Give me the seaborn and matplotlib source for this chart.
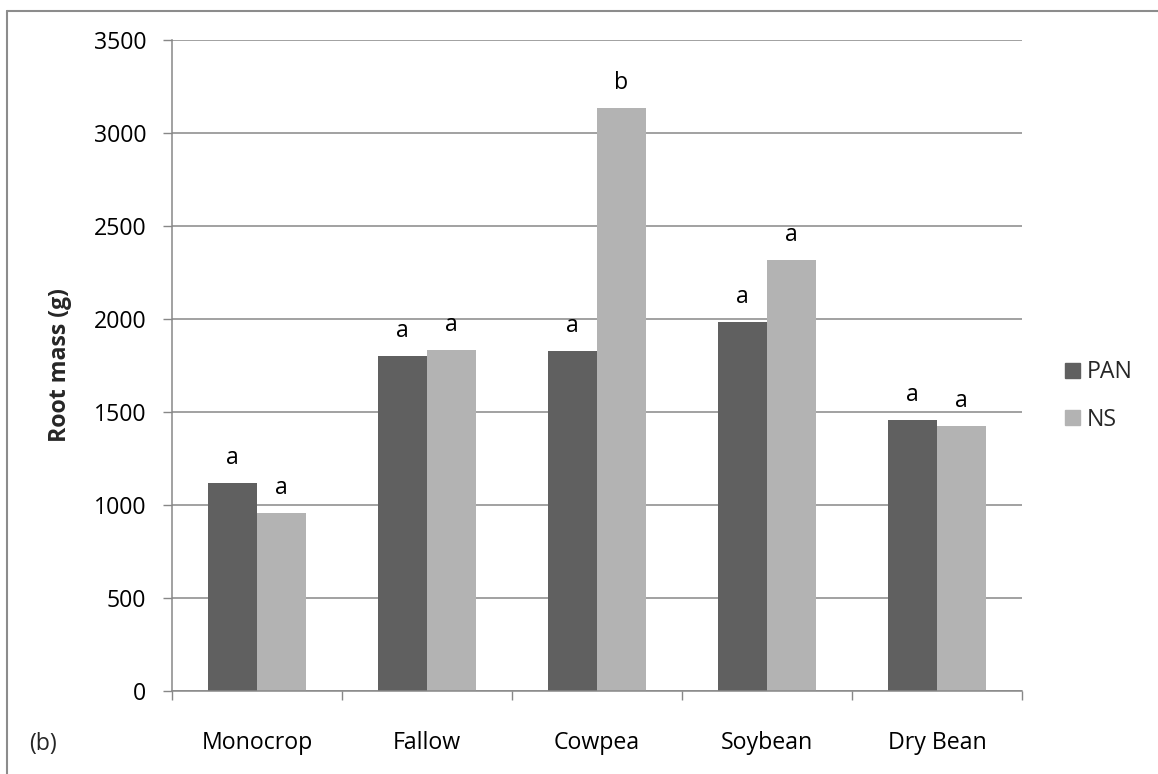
import matplotlib
matplotlib.use("Agg")
import matplotlib.pyplot as plt
import matplotlib.patches as mpatches
from matplotlib.lines import Line2D
import pandas as pd
import seaborn as sns

# Root mass per cropping system, two treatments
categories = ["Monocrop", "Fallow", "Cowpea", "Soybean", "Dry Bean"]
series = ["PAN", "NS"]
pan_mass = [1120, 1800, 1828, 1984, 1459]
ns_mass = [955, 1832, 3133, 2319, 1426]
pan_letters = ["a", "a", "a", "a", "a"]
ns_letters = ["a", "a", "b", "a", "a"]
y_ticks = [0, 500, 1000, 1500, 2000, 2500, 3000, 3500]

PAN_COLOR = "#606060"
NS_COLOR = "#b3b3b3"
GRID = "#878787"
FS = 16.7

sns.set_style("white")
plt.rcParams["font.family"] = ["Open Sans", "DejaVu Sans"]

df = pd.DataFrame({
    "Crop": categories * 2,
    "Treatment": ["PAN"] * len(categories) + ["NS"] * len(categories),
    "Root mass": pan_mass + ns_mass,
})

W, H = 1158, 774
fig = plt.figure(figsize=(W / 100, H / 100), dpi=100)
ax = fig.add_axes([172 / W, 1 - 691 / H, 850 / W, 651 / H])

sns.barplot(
    data=df, x="Crop", y="Root mass", hue="Treatment",
    order=categories, hue_order=series,
    palette={"PAN": PAN_COLOR, "NS": NS_COLOR},
    width=4 / 7, gap=0, saturation=1, linewidth=0,
    errorbar=None, legend=False, ax=ax,
)

# significance letters above each bar
for container, letters in zip(ax.containers, [pan_letters, ns_letters]):
    for bar, letter in zip(container, letters):
        ax.annotate(
            letter,
            xy=(bar.get_x() + bar.get_width() / 2, bar.get_height()),
            xytext=(0, 13.7), textcoords="offset points",
            ha="center", va="baseline", fontsize=FS, color="black",
        )

ax.set_ylim(0, 3500)
ax.set_yticks(y_ticks)
ax.set_xlim(-0.5, len(categories) - 0.5)
ax.set_xticks([i - 0.5 for i in range(len(categories) + 1)], minor=True)

ax.set_xlabel("")
ax.set_ylabel("Root mass (g)", fontsize=FS, fontweight="bold")
ax.yaxis.set_label_coords((72 - 172) / 850, 0.5)

ax.tick_params(axis="y", which="major", length=6.5, width=1, color=GRID,
               direction="out", pad=12, labelsize=FS, labelcolor="black", left=True)
ax.tick_params(axis="x", which="major", length=0, pad=29, labelsize=FS, labelcolor="black")
ax.tick_params(axis="x", which="minor", length=6.5, width=1, color=GRID,
               direction="out", bottom=True)

for side in ("top", "right"):
    ax.spines[side].set_visible(False)
for side in ("left", "bottom"):
    ax.spines[side].set_color(GRID)
    ax.spines[side].set_linewidth(1.1)

ax.yaxis.grid(True, color=GRID, linewidth=1.1)
ax.xaxis.grid(False)
ax.set_axisbelow(True)

handles = [mpatches.Patch(color=PAN_COLOR), mpatches.Patch(color=NS_COLOR)]
fig.legend(
    handles, series, loc="center left",
    bbox_to_anchor=(1065 / W, 1 - 396 / H),
    frameon=False, fontsize=FS,
    handlelength=0.65, handleheight=0.65, handletextpad=0.3,
    labelspacing=1.0, borderpad=0, borderaxespad=0,
)

fig.text(29 / W, 1 - 744 / H, "(b)", ha="left", va="center", fontsize=FS)

# chart frame
frame_kw = dict(transform=fig.transFigure, color="#8c8c8c", linewidth=1.5)
fig.add_artist(Line2D([7.5 / W, 7.5 / W], [0, 1 - 11 / H], **frame_kw))
fig.add_artist(Line2D([7.5 / W, 1], [1 - 11 / H, 1 - 11 / H], **frame_kw))

fig.savefig("out.png", dpi=100)
